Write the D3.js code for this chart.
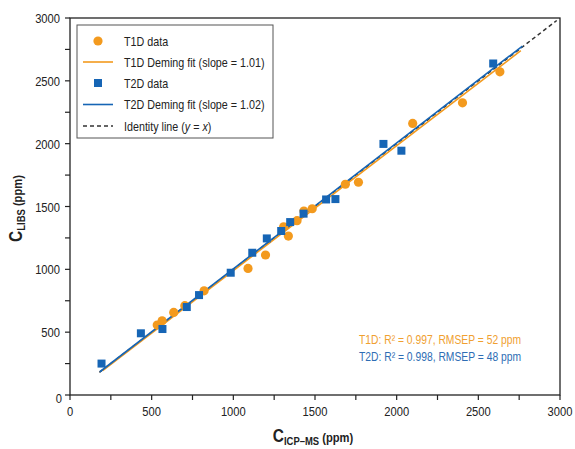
<!DOCTYPE html>
<html><head><meta charset="utf-8">
<script src="https://cdn.jsdelivr.net/npm/d3@7"></script>
<style>
html,body{margin:0;padding:0;background:#fff;}
text{font-family:"Liberation Sans",Arial,sans-serif;}
</style></head>
<body><svg id="c" width="575" height="449"></svg>
<script>
// ---- data ----
const t1dX = [534, 564, 635, 703, 821, 1090, 1197, 1308, 1337, 1390, 1432, 1483, 1686, 1766, 2098, 2403, 2632];
const t1dY = [557, 591, 657, 711, 829, 1007, 1114, 1339, 1265, 1387, 1464, 1482, 1677, 1693, 2161, 2325, 2572];
const t2dX = [193, 434, 566, 715, 790, 984, 1116, 1205, 1293, 1348, 1430, 1568, 1625, 1919, 2029, 2591];
const t2dY = [250, 491, 525, 700, 795, 973, 1132, 1246, 1305, 1376, 1443, 1556, 1559, 1998, 1944, 2638];
const t1dFitX = [200, 2760];
const t1dFitY = [195, 2740];
const t2dFitX = [183, 2770];
const t2dFitY = [185, 2777];
const identityX = [180, 2980];
const identityY = [180, 2980];
const tickValues = [0, 500, 1000, 1500, 2000, 2500, 3000];
const minorTicks = [250, 750, 1250, 1750, 2250, 2750];
const legendLabels = ["T1D data", "T1D Deming fit (slope = 1.01)", "T2D data", "T2D Deming fit (slope = 1.02)", "Identity line (y = x)"];
const statsLabels = ["T1D:  R\u00B2 = 0.997, RMSEP = 52 ppm", "T2D:  R\u00B2 = 0.998, RMSEP = 48 ppm"];

const ORANGE = "#F39A1E", BLUE = "#1665B5";
const SX = 0.86; // horizontal text condensation

const svg = d3.select("#c");
const L = 70, R = 560, T = 18, B = 395;
const x = d3.scaleLinear().domain([0, 3000]).range([L, R]);
const y = d3.scaleLinear().domain([0, 3000]).range([B, T]);

function ctext(g, px, py, str, opts) {
  opts = opts || {};
  const t = g.append("text")
    .attr("transform", `translate(${px},${py}) scale(${opts.sx || SX},1)`)
    .attr("font-size", opts.size || 12)
    .attr("fill", opts.fill || "#222")
    .attr("text-anchor", opts.anchor || "start");
  if (opts.bold) t.attr("font-weight", "bold");
  t.text(str);
  return t;
}

// frame
svg.append("rect").attr("x", L).attr("y", T).attr("width", R - L).attr("height", B - T)
  .attr("fill", "none").attr("stroke", "#222").attr("stroke-width", 1.3);

// axes ticks
const ax = svg.append("g");
tickValues.concat(minorTicks).forEach(v => {
  ax.append("line").attr("x1", x(v)).attr("x2", x(v)).attr("y1", B).attr("y2", B + 5).attr("stroke", "#222").attr("stroke-width", 1.2);
  ax.append("line").attr("y1", y(v)).attr("y2", y(v)).attr("x1", L).attr("x2", L - 5).attr("stroke", "#222").attr("stroke-width", 1.2);
});
tickValues.forEach(v => {
  ctext(ax, x(v), B + 21, String(v), {size: 13, anchor: "middle"});
  if (v === 0) ctext(ax, L - 8, B + 8, "0", {size: 13, anchor: "end"});
  else ctext(ax, L - 10, y(v) + 5, String(v), {size: 13, anchor: "end"});
});

// axis titles
const xt = svg.append("text").attr("transform", `translate(${(L + R) / 2 - 2},${B + 47}) scale(${SX},1)`)
  .attr("text-anchor", "middle").attr("font-weight", "bold").attr("fill", "#222");
xt.append("tspan").attr("font-size", 18).text("C");
xt.append("tspan").attr("font-size", 11).attr("dy", 3).text("ICP\u2013MS");
xt.append("tspan").attr("font-size", 13).attr("dy", -3).text(" (ppm)");

const yt = svg.append("text").attr("transform", `translate(22,${(T + B) / 2 + 2}) rotate(-90) scale(${SX},1)`)
  .attr("text-anchor", "middle").attr("font-weight", "bold").attr("fill", "#222");
yt.append("tspan").attr("font-size", 18).text("C");
yt.append("tspan").attr("font-size", 11).attr("dy", 3).text("LIBS");
yt.append("tspan").attr("font-size", 13).attr("dy", -3).text("  (ppm)");

// lines
const lineGen = d3.line().x(d => x(d[0])).y(d => y(d[1]));
svg.append("path").datum(d3.zip(identityX, identityY)).attr("d", lineGen)
  .attr("fill", "none").attr("stroke", "#333").attr("stroke-width", 1.5).attr("stroke-dasharray", "4,3");
svg.append("path").datum(d3.zip(t1dFitX, t1dFitY)).attr("d", lineGen)
  .attr("fill", "none").attr("stroke", ORANGE).attr("stroke-width", 1.6);
svg.append("path").datum(d3.zip(t2dFitX, t2dFitY)).attr("d", lineGen)
  .attr("fill", "none").attr("stroke", BLUE).attr("stroke-width", 1.6);

// points
svg.append("g").selectAll("circle").data(d3.zip(t1dX, t1dY)).join("circle")
  .attr("cx", d => x(d[0])).attr("cy", d => y(d[1])).attr("r", 4.6).attr("fill", ORANGE);
const s = 8;
svg.append("g").selectAll("rect").data(d3.zip(t2dX, t2dY)).join("rect")
  .attr("x", d => x(d[0]) - s / 2).attr("y", d => y(d[1]) - s / 2).attr("width", s).attr("height", s).attr("fill", BLUE);

// legend
const lg = svg.append("g");
lg.append("rect").attr("x", 77).attr("y", 25).attr("width", 196).attr("height", 113)
  .attr("fill", "#fff").attr("stroke", "#555").attr("stroke-width", 1);
const rows = [41, 62, 83, 104.5, 126];
lg.append("circle").attr("cx", 98).attr("cy", rows[0]).attr("r", 4.6).attr("fill", ORANGE);
lg.append("line").attr("x1", 83).attr("x2", 113).attr("y1", rows[1]).attr("y2", rows[1]).attr("stroke", ORANGE).attr("stroke-width", 1.6);
lg.append("rect").attr("x", 98 - 4).attr("y", rows[2] - 4).attr("width", 8).attr("height", 8).attr("fill", BLUE);
lg.append("line").attr("x1", 83).attr("x2", 113).attr("y1", rows[3]).attr("y2", rows[3]).attr("stroke", BLUE).attr("stroke-width", 1.6);
lg.append("line").attr("x1", 83).attr("x2", 113).attr("y1", rows[4]).attr("y2", rows[4]).attr("stroke", "#333").attr("stroke-width", 1.5).attr("stroke-dasharray", "4,3");
legendLabels.forEach((lab, i) => {
  if (i === 4) {
    const t = lg.append("text").attr("transform", `translate(124,${rows[i] + 4.5}) scale(${SX},1)`)
      .attr("font-size", 12.5).attr("fill", "#222");
    t.append("tspan").text("Identity line (");
    t.append("tspan").attr("font-style", "italic").text("y");
    t.append("tspan").text(" = ");
    t.append("tspan").attr("font-style", "italic").text("x");
    t.append("tspan").text(")");
  } else {
    ctext(lg, 124, rows[i] + 4.5, lab, {size: 12.5});
  }
});

// stats annotation
ctext(svg, 359, 344, statsLabels[0], {size: 12, fill: "#F0A030"});
ctext(svg, 359, 361, statsLabels[1], {size: 12, fill: "#2E6DB4"});
</script></body></html>
